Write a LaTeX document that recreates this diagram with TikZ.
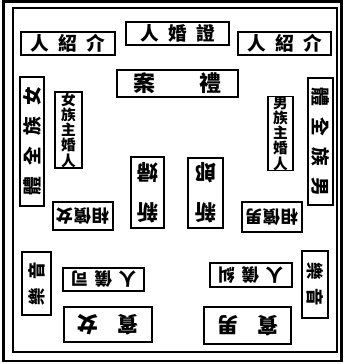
\documentclass[tikz,border=0pt]{standalone}
\usepackage{fontspec}
\newfontfamily\cjk{Noto Sans CJK TC}
\newcommand{\cjksize}[1]{\cjk\bfseries\fontsize{#1}{#1}\selectfont}

\begin{document}
\begin{tikzpicture}
[x=0.75pt,y=-0.75pt,
  box/.style={draw,line width=1.2pt,inner sep=0pt,align=center},
  toprow/.style={box,minimum height=17.25pt,font=\cjksize{14}},
  column/.style={box,font=\cjksize{14}},
  flip/.style={rotate=180}]
\useasboundingbox (0,0) rectangle (343,364);
% frame
\draw[line width=1.8pt] (3.5,1.5) rectangle (341.5,361);
\draw[line width=0.9pt] (13,8) rectangle (337,352);
% top row
\node[toprow,minimum width=70.5pt] (introL) at (68,43.5)
  {人\hspace{7pt}紹\hspace{7pt}介};
\node[toprow,minimum width=77.25pt] (witness) at (177.5,33.5)
  {人\hspace{7pt}婚\hspace{7pt}證};
\node[toprow,minimum width=69.75pt] (introR) at (284.5,43.5)
  {人\hspace{7pt}紹\hspace{7pt}介};
\node[box,minimum width=90.75pt,minimum height=20.25pt,
  font=\cjksize{16.5}] (table) at (177.5,83.5) {案\hspace{33pt}禮};
% clans, sides
\node[column,rotate=90,minimum width=96.75pt,minimum height=18pt]
  (femclan) at (32,141.5) {體\hspace{8.5pt}全\hspace{8.5pt}族\hspace{8.5pt}女};
\node[column,rotate=-90,minimum width=95.25pt,minimum height=18.75pt]
  (maleclan) at (320.5,141.5) {體\hspace{8.5pt}全\hspace{8.5pt}族\hspace{8.5pt}男};
\node[box,minimum width=20.25pt,minimum height=57pt,
  font=\cjk\bfseries\fontsize{11}{11.4}\selectfont] (femhost) at (68.5,130)
  {女\\族\\主\\婚\\人};
\node[box,minimum width=18.75pt,minimum height=54.75pt,
  font=\cjk\bfseries\fontsize{11}{11.4}\selectfont] (malehost) at (280.5,133.5)
  {男\\族\\主\\婚\\人};
% couple
\node[box,flip,minimum width=24.75pt,minimum height=53.25pt,
  font=\cjk\bfseries\fontsize{16}{30}\selectfont] (bride) at (147.5,192.5) {新\\婦};
\node[box,flip,minimum width=26.25pt,minimum height=52.5pt,
  font=\cjk\bfseries\fontsize{16}{30}\selectfont] (groom) at (205.5,193) {新\\郎};
\node[box,flip,minimum width=45pt,minimum height=21pt,font=\cjksize{13}]
  (bridesmaid) at (83,216) {相\hspace{0.5pt}儐\hspace{0.5pt}女};
\node[box,flip,minimum width=45pt,minimum height=22.5pt,font=\cjksize{13}]
  (bestman) at (272,217) {相\hspace{0.5pt}儐\hspace{0.5pt}男};
% lower part
\node[box,rotate=90,minimum width=47.25pt,minimum height=21.75pt,
  font=\cjksize{13}] (musicL) at (36.5,283.5) {樂\hspace{6.5pt}音};
\node[box,rotate=-90,minimum width=50.25pt,minimum height=19.5pt,
  font=\cjksize{13}] (musicR) at (315,284.5) {樂\hspace{6.5pt}音};
\node[box,flip,minimum width=60.75pt,minimum height=17.25pt,
  font=\cjksize{13}] (emcee) at (103.5,279.5) {人\hspace{5pt}儀\hspace{5pt}司};
\node[box,flip,minimum width=61.5pt,minimum height=18pt,
  font=\cjksize{13}] (usher) at (251,275) {人\hspace{5pt}儀\hspace{5pt}糾};
\node[box,flip,minimum width=66pt,minimum height=26.25pt,
  font=\cjksize{16}] (femguest) at (108,324.5) {賓\hspace{14pt}女};
\node[box,flip,minimum width=65.25pt,minimum height=27.75pt,
  font=\cjksize{16}] (maleguest) at (247.5,325.5) {賓\hspace{14pt}男};
\end{tikzpicture}
\end{document}
